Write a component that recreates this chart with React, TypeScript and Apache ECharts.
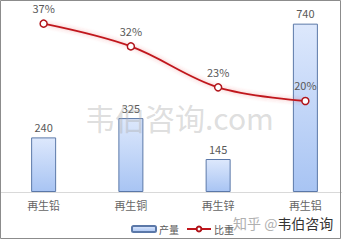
import React, { useEffect, useRef } from "react";
import * as echarts from "echarts";

const categories = ["再生铅", "再生铜", "再生锌", "再生铝"];
const output = [240, 325, 145, 740];
const share = [37, 32, 23, 20];

const FONT = '"Noto Sans CJK SC", "Noto Sans", sans-serif';
const LABEL_COLOR = "#595959";

export default function App() {
  const ref = useRef<HTMLDivElement>(null);

  useEffect(() => {
    if (!ref.current) return;
    const chart = echarts.init(ref.current, null, { renderer: "svg" });
    chart.setOption({
      animation: false,
      backgroundColor: "#ffffff",
      textStyle: { fontFamily: FONT },
      grid: { left: 0, top: 10, width: 349, height: 182, outerBoundsMode: "none" },
      legend: {
        left: 126,
        top: 219,
        itemWidth: 24,
        itemHeight: 6,
        itemGap: 7,
        textStyle: { color: LABEL_COLOR, fontSize: 10, fontFamily: FONT, padding: [0, 0, 0, -2] },
        data: ["产量", "比重"],
      },
      xAxis: {
        type: "category",
        data: categories,
        axisLine: { lineStyle: { color: "#d9d9d9", width: 1 } },
        axisTick: { show: false },
        axisLabel: { color: "#666666", fontSize: 11, margin: 7, fontFamily: FONT },
      },
      yAxis: [
        { type: "value", min: 0, max: 800, show: false, splitLine: { show: false } },
        { type: "value", min: 0, max: 40, show: false, splitLine: { show: false } },
      ],
      series: [
        {
          name: "产量",
          type: "bar",
          data: output,
          barWidth: 25,
          yAxisIndex: 0,
          itemStyle: {
            color: new echarts.graphic.LinearGradient(0, 0, 0, 1, [
              { offset: 0, color: "#dde8fc" },
              { offset: 1, color: "#a8c4f3" },
            ]),
            borderColor: "#5b78a8",
            borderWidth: 1,
          },
          label: {
            show: true,
            position: "top",
            distance: 5,
            color: LABEL_COLOR,
            fontSize: 11,
            fontFamily: FONT,
          },
        },
        {
          name: "比重",
          type: "line",
          data: share,
          yAxisIndex: 1,
          smooth: 0.35,
          symbol: "circle",
          symbolSize: 7,
          z: 5,
          lineStyle: {
            color: "#c0161c",
            width: 1.8,
            shadowColor: "rgba(230,60,60,0.45)",
            shadowBlur: 4,
          },
          itemStyle: { color: "#ffffff", borderColor: "#b0141a", borderWidth: 1.5 },
          label: {
            show: true,
            position: "top",
            distance: 6,
            color: LABEL_COLOR,
            fontSize: 11,
            fontFamily: FONT,
            formatter: (p: any) => p.value + "%",
          },
        },
      ],
      graphic: [
        {
          type: "rect",
          z: 100,
          silent: true,
          shape: { x: 0.5, y: 0.5, width: 340, height: 238 },
          style: { fill: "none", stroke: "#8c8c8c", lineWidth: 1 },
        },
        {
          type: "text",
          z: 100,
          silent: true,
          x: 85,
          y: 117,
          style: {
            text: "韦伯咨询.com",
            font: `30px ${FONT}`,
            fill: "rgba(170,170,170,0.4)",
            verticalAlign: "middle",
          },
        },
        {
          type: "text",
          z: 100,
          silent: true,
          x: 233,
          y: 223,
          style: {
            text: "{a|知乎 @}{b|韦伯咨询}",
            verticalAlign: "middle",
            rich: {
              a: { font: `14px ${FONT}`, fill: "#b0b0b0" },
              b: {
                font: `14px ${FONT}`,
                fill: "#333333",
                stroke: "#ffffff",
                lineWidth: 2,
              },
            },
          },
        },
      ],
    });
    return () => chart.dispose();
  }, []);

  return (
    <div
      ref={ref}
      style={{ position: "fixed", left: 0, top: 0, width: 342, height: 240 }}
    />
  );
}
